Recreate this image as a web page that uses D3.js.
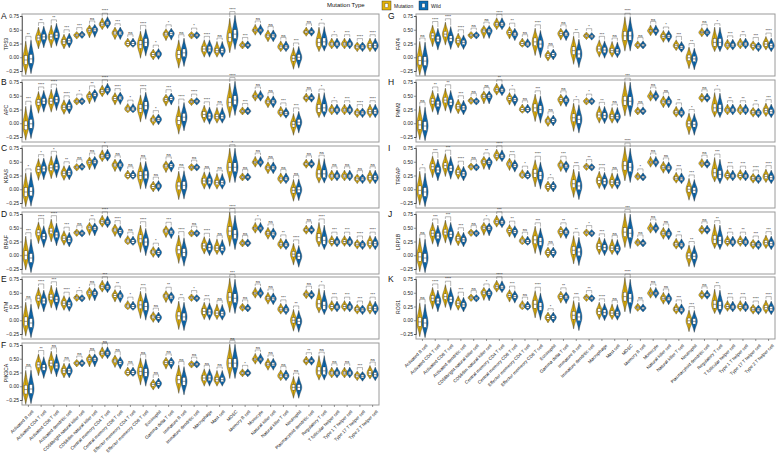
<!DOCTYPE html>
<html><head><meta charset="utf-8">
<script src="https://cdn.jsdelivr.net/npm/d3@7"></script>
<style>body{margin:0;background:#fff}svg{font-family:Arial,"Liberation Sans",sans-serif}</style>
</head><body><svg id="c" width="778" height="455"></svg>
<script>
const cellTypes = ["Activated B cell","Activated CD4 T cell","Activated CD8 T cell","Activated dendritic cell","CD56bright natural killer cell","CD56dim natural killer cell","Central memory CD4 T cell","Central memory CD8 T cell","Effector memeory CD4 T cell","Effector memeory CD8 T cell","Eosinophil","Gamma delta T cell","Immature  B cell","Immature dendritic cell","Macrophage","Mast cell","MDSC","Memory B cell","Monocyte","Natural killer cell","Natural killer T cell","Neutrophil","Plasmacytoid dendritic cell","Regulatory T cell","T follicular helper cell","Type 1 T helper cell","Type 17 T helper cell","Type 2 T helper cell"];
const groups = ["Mutation","Wild"];
const yTicks = [-0.25, 0, 0.25, 0.5, 0.75];
// distribution shape (distance of min / max below / above median, half IQR)
const spreadLow  = [0.27,0.2,0.2,0.13,0.07,0.14,0.1,0.12,0.07,0.25,0.1,0.12,0.25,0.07,0.15,0.12,0.28,0.07,0.09,0.11,0.09,0.2,0.08,0.17,0.09,0.09,0.09,0.11];
const spreadHigh = [0.35,0.2,0.22,0.14,0.07,0.1,0.12,0.11,0.1,0.25,0.1,0.1,0.27,0.07,0.17,0.17,0.35,0.08,0.11,0.11,0.11,0.2,0.09,0.28,0.11,0.11,0.09,0.14];
const boxHalf    = [0.08,0.05,0.05,0.04,0.02,0.03,0.03,0.03,0.03,0.07,0.03,0.03,0.07,0.02,0.05,0.04,0.08,0.02,0.02,0.03,0.03,0.05,0.02,0.07,0.03,0.03,0.03,0.04];

const genes = ["TP53","APC","KRAS","BRAF","ATM","PIK3CA","FAT4","PMM2","TRRAP","LRP1B","ROS1"];
const letters = ["A","B","C","D","E","F","G","H","I","J","K"];

const mutTP53  = [-0.05,0.35,0.37,0.28,0.40,0.49,0.60,0.44,0.25,0.23,0.05,0.42,0.05,0.40,0.15,0.12,0.36,0.22,0.49,0.39,0.19,-0.02,0.46,0.27,0.24,0.24,0.19,0.21];
const wildTP53 = [-0.03,0.37,0.40,0.30,0.41,0.50,0.62,0.44,0.25,0.27,0.06,0.43,0.08,0.40,0.15,0.12,0.42,0.22,0.49,0.39,0.19,0.00,0.46,0.28,0.24,0.24,0.19,0.21];
const sigTP53  = ["**","**","**","***","***","ns","****","***","ns","****","*","*","ns","*","****","ns","****","***","ns","ns","ns","***","ns","*","*","***","****","****"];

const mutAPC  = [-0.04,0.38,0.40,0.29,0.40,0.49,0.58,0.45,0.26,0.27,0.06,0.43,0.05,0.39,0.16,0.12,0.38,0.22,0.49,0.39,0.20,-0.02,0.46,0.27,0.24,0.24,0.19,0.21];
const wildAPC = [-0.01,0.40,0.43,0.30,0.40,0.52,0.61,0.46,0.26,0.32,0.07,0.45,0.11,0.40,0.13,0.12,0.42,0.22,0.49,0.39,0.18,0.02,0.46,0.28,0.24,0.24,0.19,0.21];
const sigAPC  = ["***","****","****","****","*","**","****","****","*","****","*","***","****","****","****","ns","****","***","ns","ns","***","***","ns","*","*","***","****","****"];

const mutKRAS  = [-0.05,0.36,0.39,0.29,0.40,0.49,0.60,0.44,0.25,0.25,0.05,0.42,0.06,0.40,0.15,0.12,0.40,0.22,0.49,0.39,0.19,-0.02,0.46,0.28,0.24,0.24,0.19,0.21];
const wildKRAS = [-0.04,0.37,0.41,0.30,0.41,0.50,0.61,0.44,0.25,0.26,0.06,0.43,0.07,0.40,0.15,0.12,0.40,0.22,0.49,0.39,0.19,-0.01,0.46,0.28,0.24,0.24,0.19,0.21];
const sigKRAS  = ["*","*","*","**","ns","ns","*","ns","ns","ns","ns","ns","ns","ns","ns","ns","*","ns","ns","ns","ns","ns","ns","ns","ns","ns","ns","ns"];

const mutBRAF  = [0.00,0.41,0.44,0.31,0.41,0.50,0.61,0.46,0.26,0.30,0.06,0.44,0.10,0.40,0.17,0.13,0.44,0.22,0.49,0.40,0.20,0.02,0.46,0.32,0.25,0.25,0.20,0.22];
const wildBRAF = [-0.05,0.34,0.37,0.28,0.40,0.49,0.60,0.43,0.25,0.24,0.05,0.42,0.05,0.40,0.14,0.12,0.38,0.22,0.49,0.39,0.19,-0.02,0.46,0.27,0.24,0.24,0.19,0.21];
const sigBRAF  = ["***","****","****","***","ns","**","****","****","ns","****","*","***","****","ns","****","ns","****","ns","*","ns","**","****","ns","****","***","***","****","****"];

const mutATM  = [-0.02,0.40,0.42,0.31,0.41,0.50,0.61,0.45,0.26,0.28,0.06,0.44,0.08,0.41,0.16,0.13,0.42,0.23,0.49,0.40,0.20,0.00,0.47,0.30,0.25,0.25,0.20,0.22];
const wildATM = [-0.05,0.35,0.38,0.29,0.40,0.49,0.60,0.44,0.25,0.25,0.05,0.42,0.06,0.40,0.15,0.12,0.40,0.22,0.49,0.39,0.19,-0.02,0.46,0.27,0.24,0.24,0.19,0.21];
const sigATM  = ["ns","****","***","****","*","ns","***","**","*","***","ns","**","**","*","***","ns","***","ns","ns","ns","***","**","ns","*","***","***","***","***"];

const mutPIK3CA  = [-0.06,0.39,0.42,0.28,0.42,0.49,0.60,0.46,0.25,0.27,0.03,0.43,0.12,0.40,0.15,0.12,0.42,0.24,0.49,0.40,0.19,-0.02,0.46,0.28,0.24,0.24,0.19,0.24];
const wildPIK3CA = [-0.05,0.34,0.37,0.28,0.42,0.49,0.60,0.43,0.25,0.25,0.05,0.43,0.09,0.40,0.15,0.12,0.42,0.24,0.49,0.40,0.19,-0.02,0.46,0.28,0.24,0.24,0.18,0.21];
const sigPIK3CA  = ["ns","**","ns","ns","ns","ns","ns","ns","ns","ns","ns","ns","ns","ns","ns","ns","ns","*","ns","ns","ns","ns","**","ns","ns","ns","***","ns"];

const mutFAT4  = [-0.06,0.39,0.42,0.30,0.40,0.48,0.60,0.45,0.25,0.28,0.03,0.43,0.12,0.39,0.15,0.12,0.39,0.22,0.48,0.38,0.21,-0.01,0.45,0.27,0.22,0.24,0.21,0.24];
const wildFAT4 = [-0.07,0.33,0.34,0.27,0.40,0.48,0.60,0.42,0.24,0.24,0.05,0.42,0.06,0.38,0.13,0.11,0.39,0.22,0.48,0.38,0.18,-0.03,0.45,0.27,0.22,0.24,0.19,0.21];
const sigFAT4  = ["ns","****","****","****","ns","ns","****","**","ns","****","ns","ns","**","*","***","ns","****","ns","ns","*","***","**","ns","*","***","**","***","****"];

const mutPMM2  = [-0.03,0.40,0.42,0.30,0.41,0.49,0.61,0.45,0.25,0.28,0.04,0.43,0.10,0.40,0.15,0.12,0.41,0.22,0.49,0.39,0.20,-0.01,0.46,0.28,0.24,0.24,0.20,0.23];
const wildPMM2 = [-0.05,0.35,0.38,0.28,0.40,0.49,0.60,0.43,0.25,0.25,0.05,0.42,0.07,0.40,0.14,0.12,0.40,0.22,0.49,0.39,0.19,-0.02,0.46,0.27,0.24,0.24,0.19,0.21];
const sigPMM2  = ["ns","**","**","***","ns","ns","**","*","ns","***","ns","ns","*","*","**","ns","***","ns","ns","ns","**","*","ns","*","**","**","**","***"];

const mutTRRAP  = [-0.02,0.41,0.43,0.31,0.41,0.50,0.61,0.46,0.26,0.29,0.05,0.44,0.10,0.41,0.16,0.13,0.43,0.23,0.49,0.40,0.20,0.00,0.47,0.30,0.25,0.25,0.20,0.23];
const wildTRRAP = [-0.05,0.35,0.38,0.28,0.40,0.49,0.60,0.43,0.25,0.25,0.05,0.42,0.06,0.40,0.14,0.12,0.40,0.22,0.49,0.39,0.19,-0.02,0.46,0.27,0.24,0.24,0.19,0.21];
const sigTRRAP  = ["*","***","***","****","ns","**","****","***","*","****","*","***","***","**","****","ns","****","*","ns","ns","***","***","ns","***","***","***","****","****"];

const mutLRP1B  = [-0.03,0.40,0.42,0.30,0.41,0.50,0.61,0.45,0.26,0.28,0.05,0.43,0.09,0.41,0.16,0.13,0.42,0.23,0.49,0.40,0.20,-0.01,0.46,0.29,0.25,0.25,0.20,0.23];
const wildLRP1B = [-0.05,0.35,0.38,0.28,0.40,0.49,0.60,0.43,0.25,0.25,0.05,0.42,0.06,0.40,0.14,0.12,0.40,0.22,0.49,0.39,0.19,-0.02,0.46,0.27,0.24,0.24,0.19,0.21];
const sigLRP1B  = ["ns","***","***","***","ns","*","***","**","ns","***","ns","**","**","*","***","ns","***","ns","ns","ns","**","**","ns","**","**","**","***","***"];

const mutROS1  = [-0.03,0.40,0.43,0.31,0.41,0.50,0.61,0.45,0.26,0.29,0.05,0.43,0.09,0.41,0.16,0.13,0.43,0.23,0.49,0.40,0.20,-0.01,0.46,0.29,0.25,0.25,0.20,0.23];
const wildROS1 = [-0.05,0.35,0.38,0.28,0.40,0.49,0.60,0.43,0.25,0.25,0.05,0.42,0.06,0.40,0.14,0.12,0.40,0.22,0.49,0.39,0.19,-0.02,0.46,0.27,0.24,0.24,0.19,0.21];
const sigROS1  = ["ns","****","****","***","ns","*","****","***","ns","****","*","**","***","**","****","ns","****","ns","ns","ns","***","***","ns","**","***","***","****","****"];

const panelData = [
  [mutTP53, wildTP53, sigTP53], [mutAPC, wildAPC, sigAPC], [mutKRAS, wildKRAS, sigKRAS],
  [mutBRAF, wildBRAF, sigBRAF], [mutATM, wildATM, sigATM], [mutPIK3CA, wildPIK3CA, sigPIK3CA],
  [mutFAT4, wildFAT4, sigFAT4], [mutPMM2, wildPMM2, sigPMM2], [mutTRRAP, wildTRRAP, sigTRRAP],
  [mutLRP1B, wildLRP1B, sigLRP1B], [mutROS1, wildROS1, sigROS1]
];

const colors = {Mutation: "#E2B20C", Wild: "#0B6DB8"};
const svg = d3.select("#c");

const cols = [
  {x0: 22, x1: 379, letterX: 1, titleX: 8},
  {x0: 416, x1: 775, letterX: 388, titleX: 400}
];
const tops = [14, 80, 146, 212, 277, 343];
const boxH = 62;

function drawPanel(pi, col, row, showX) {
  const c = cols[col];
  const top = tops[row];
  const [mut, wild, sig] = panelData[pi];
  const x = d3.scaleBand().domain(cellTypes).range([c.x0, c.x1]);
  const xg = d3.scaleBand().domain(groups).range([0, x.bandwidth()]).paddingInner(0.02).paddingOuter(0.22);
  const y = d3.scaleLinear().domain([-0.25, 0.75]).range([top + 57, top + 2]);
  const g = svg.append("g");

  g.append("rect").attr("x", c.x0).attr("y", top).attr("width", c.x1 - c.x0).attr("height", boxH)
    .attr("fill", "none").attr("stroke", "#9a9a9a").attr("stroke-width", 1);

  const ax = g.append("g").attr("transform", `translate(${c.x0},0)`)
    .call(d3.axisLeft(y).tickValues(yTicks).tickFormat(d3.format(".2f")).tickSize(2));
  ax.select(".domain").attr("stroke", "#333").attr("stroke-width", 0.6);
  ax.selectAll(".tick line").attr("stroke", "#333").attr("stroke-width", 0.5);
  ax.selectAll(".tick text").attr("font-size", 5).attr("fill", "#222").attr("x", -3);

  g.append("text").attr("x", c.letterX).attr("y", top + 5).attr("font-size", 8.5).attr("fill", "#111").text(letters[pi]);
  g.append("text").attr("transform", `translate(${c.titleX},${top + 30}) rotate(-90)`).attr("text-anchor", "middle")
    .attr("font-size", 5.2).attr("fill", "#111").text(genes[pi]);

  const hw = 3.2;
  const area = d3.area().curve(d3.curveBasis).y(d => y(d.v));
  cellTypes.forEach((ct, i) => {
    const tops2 = [];
    groups.forEach((gr, k) => {
      const med = k === 0 ? mut[i] : wild[i];
      const lo = med - spreadLow[i], hi = med + spreadHigh[i];
      const q1 = med - boxHalf[i], q3 = med + boxHalf[i];
      const cx = x(ct) + xg(gr) + xg.bandwidth() / 2;
      tops2.push({cx, hi});
      const pts = [{v: lo, w: 0}, {v: (lo + q1) / 2, w: 0.3}, {v: q1, w: 0.85}, {v: med, w: 1},
                   {v: q3, w: 0.85}, {v: (q3 + hi) / 2, w: 0.3}, {v: hi, w: 0}];
      area.x0(d => cx - d.w * hw).x1(d => cx + d.w * hw);
      g.append("path").attr("d", area(pts)).attr("fill", colors[gr]).attr("stroke", "#222").attr("stroke-width", 0.35);
      g.append("line").attr("x1", cx).attr("x2", cx).attr("y1", y(lo + 0.02)).attr("y2", y(hi - 0.02))
        .attr("stroke", "#222").attr("stroke-width", 0.3);
      g.append("rect").attr("x", cx - 1.4).attr("width", 2.8).attr("y", y(q3)).attr("height", Math.max(1.5, y(q1) - y(q3)))
        .attr("fill", "#fff").attr("stroke", "#222").attr("stroke-width", 0.3);
      g.append("line").attr("x1", cx - 1.4).attr("x2", cx + 1.4).attr("y1", y(med)).attr("y2", y(med))
        .attr("stroke", "#222").attr("stroke-width", 0.5);
    });
    const bTop = Math.max(tops2[0].hi, tops2[1].hi) + 0.06;
    const by = y(bTop);
    g.append("path").attr("d", `M${tops2[0].cx},${y(tops2[0].hi + 0.02)}V${by}H${tops2[1].cx}V${y(tops2[1].hi + 0.02)}`)
      .attr("fill", "none").attr("stroke", "#333").attr("stroke-width", 0.35);
    g.append("text").attr("x", (tops2[0].cx + tops2[1].cx) / 2).attr("y", by - 0.8).attr("text-anchor", "middle")
      .attr("font-size", 4).attr("fill", "#111").text(sig[i]);
  });

  if (showX) {
    const xa = g.append("g").attr("transform", `translate(0,${top + boxH})`).call(d3.axisBottom(x).tickSize(2));
    xa.select(".domain").remove();
    xa.selectAll(".tick line").attr("stroke", "#333").attr("stroke-width", 0.5);
    xa.selectAll(".tick text").attr("font-size", 4.5).attr("fill", "#111").attr("text-anchor", "end")
      .attr("dy", 0).attr("transform", "translate(2,3.5) rotate(-45)");
  }
}

for (let i = 0; i < 6; i++) drawPanel(i, 0, i, i === 5);
for (let i = 0; i < 5; i++) drawPanel(6 + i, 1, i, i === 4);

// legend
const lg = svg.append("g");
lg.append("text").attr("x", 327).attr("y", 7).attr("font-size", 6).attr("fill", "#111").text("Mutation Type");
const legItems = [{g: "Mutation", x: 382, tx: 394}, {g: "Wild", x: 419, tx: 431}];
legItems.forEach(d => {
  lg.append("rect").attr("x", d.x).attr("y", 1).attr("width", 9).attr("height", 9).attr("fill", colors[d.g]).attr("stroke", "#222").attr("stroke-width", 0.4);
  lg.append("rect").attr("x", d.x + 3).attr("y", 3.5).attr("width", 3).attr("height", 4).attr("fill", "#fff").attr("stroke", "#222").attr("stroke-width", 0.3);
  lg.append("text").attr("x", d.tx).attr("y", 7.5).attr("font-size", 5).attr("fill", "#111").text(d.g);
});
</script></body></html>
